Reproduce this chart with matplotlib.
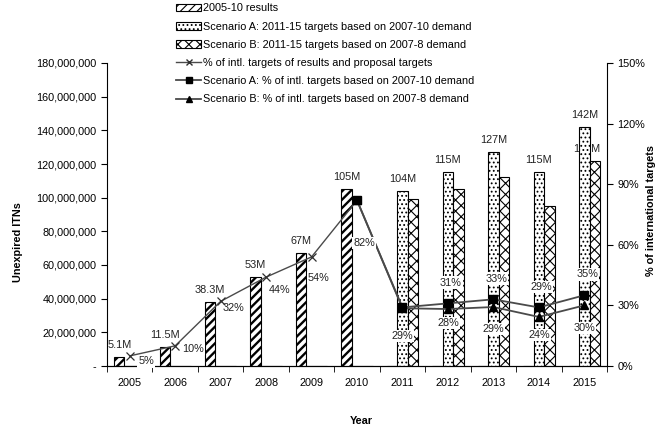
import numpy as np
import matplotlib
matplotlib.use("Agg")
import matplotlib.pyplot as plt
from matplotlib.patches import Patch
from matplotlib.lines import Line2D
from matplotlib.ticker import FuncFormatter, FixedLocator

plt.rcParams['font.family'] = ['Liberation Sans', 'DejaVu Sans']

# data
years = ['2005', '2006', '2007', '2008', '2009', '2010',
         '2011', '2012', '2013', '2014', '2015']
results = [5.1e6, 11.5e6, 38.3e6, 53e6, 67e6, 105e6, 0, 0, 0, 0, 0]
results_labels = ['5.1M', '11.5M', '38.3M', '53M', '67M', '105M', '', '', '', '', '']
scen_a = [0, 0, 0, 0, 0, 0, 104e6, 115e6, 127e6, 115e6, 142e6]
scen_a_labels = ['', '', '', '', '', '', '104M', '115M', '127M', '115M', '142M']
scen_b = [0, 0, 0, 0, 0, 0, 99e6, 105e6, 112.5e6, 95e6, 122e6]
scen_b_labels = ['', '', '', '', '', '', '', '', '', '', '122M']

pct_results = [0.05, 0.10, 0.32, 0.44, 0.54, 0.82]
pct_results_labels = ['5%', '10%', '32%', '44%', '54%', '']
pct_a = [0.82, 0.29, 0.31, 0.33, 0.29, 0.35]
pct_a_labels = ['', '', '31%', '33%', '29%', '35%']
pct_b = [0.82, 0.286, 0.282, 0.292, 0.243, 0.30]
pct_b_labels = ['82%', '29%', '28%', '29%', '24%', '30%']

FS = 7.8
x = np.arange(len(years))
w = 0.23

fig = plt.figure(figsize=(6.61, 4.29), dpi=100)
ax = fig.add_axes([107 / 661, 1 - 366 / 429, 500 / 661, 303 / 429])
ax2 = ax.twinx()

plt.rcParams['hatch.linewidth'] = 1.7
ax.bar(x - w, results, w, color='white', edgecolor='black', hatch='////', lw=0.8, zorder=3)
leg_res = Patch(facecolor='white', edgecolor='black', hatch='////', lw=0.8)
plt.rcParams['hatch.linewidth'] = 0.8
ax.bar(x, scen_a, w, color='white', edgecolor='black', hatch='....', lw=0.8, zorder=3)
ax.bar(x + w, scen_b, w, color='white', edgecolor='black', hatch='xxx', lw=0.8, zorder=3)

for i, lab in enumerate(results_labels):
    if lab:
        ax.annotate(lab, (x[i] - w, results[i]), xytext=(0, 5), textcoords='offset points',
                    ha='center', va='bottom', fontsize=FS, color='#222222')
for i, lab in enumerate(scen_a_labels):
    if lab:
        ax.annotate(lab, (x[i], scen_a[i]), xytext=(0, 5), textcoords='offset points',
                    ha='center', va='bottom', fontsize=FS, color='#222222')
for i, lab in enumerate(scen_b_labels):
    if lab:
        ax.annotate(lab, (x[i] + 0.05, scen_b[i]), xytext=(0, 5), textcoords='offset points',
                    ha='center', va='bottom', fontsize=FS, color='#222222', zorder=1)

ax.set_xlim(-0.5, len(years) - 0.5)
ax.set_ylim(0, 180e6)
ax.set_yticks(np.arange(0, 180e6 + 1, 20e6))
ax.yaxis.set_major_formatter(FuncFormatter(lambda v, p: '-' if v == 0 else f'{v:,.0f}'))
ax.set_xticks(x)
ax.set_xticklabels(years)
ax.xaxis.set_minor_locator(FixedLocator(np.arange(-0.5, len(years), 1.0)))
ax.tick_params(axis='x', which='major', length=0, pad=9, labelsize=FS)
ax.tick_params(axis='x', which='minor', length=4, direction='out')
ax.tick_params(axis='y', length=4, labelsize=FS)
for s in ['top', 'right']:
    ax.spines[s].set_visible(False)

# percent lines on the right axis
ax2.set_ylim(0, 1.5)
ax2.set_yticks(np.arange(0, 1.51, 0.3))
ax2.yaxis.set_major_formatter(FuncFormatter(lambda v, p: f'{v * 100:.0f}%'))
ax2.tick_params(axis='y', length=4, labelsize=FS)
ax2.spines['top'].set_visible(False)
ax2.spines['left'].set_visible(False)
ax2.set_zorder(ax.get_zorder() + 1)
ax2.patch.set_visible(False)

xr = x[:6]
xs = x[5:]
ax2.plot(xr, pct_results, color='#4a4a4a', lw=1.0, marker='x', ms=6, mec='#303030', mew=0.9, zorder=4)
ax2.plot(xs, pct_b, color='#4a4a4a', lw=1.3, marker='^', ms=5.5, mfc='black', mec='black', zorder=4)
ax2.plot(xs, pct_a, color='#4a4a4a', lw=1.3, marker='s', ms=5.5, mfc='black', mec='black', zorder=5)

box = dict(boxstyle='square,pad=0.1', fc='white', ec='none')
res_off = [(12, -4), (13, -2), (9, -5), (10, -9), (5, -15), (0, 0)]
for i, lab in enumerate(pct_results_labels):
    if lab:
        ax2.annotate(lab, (xr[i], pct_results[i]), xytext=res_off[i], textcoords='offset points',
                     ha='center', va='center', fontsize=FS, color='#222222', bbox=box)
for i, lab in enumerate(pct_a_labels):
    if lab:
        ax2.annotate(lab, (xs[i], pct_a[i]), xytext=(2, 15), textcoords='offset points',
                     ha='center', va='center', fontsize=FS, color='#222222', bbox=box, zorder=6)
b_off = [(5, -31), (0, -20), (0, -10), (0, -16), (0, -13), (0, -16)]
for i, lab in enumerate(pct_b_labels):
    if lab:
        ax2.annotate(lab, (xs[i], pct_b[i]), xytext=b_off[i], textcoords='offset points',
                     ha='center', va='center', fontsize=FS, color='#222222', bbox=box, zorder=6)

fig.text(18 / 661, 1 - 242 / 429, 'Unexpired ITNs', rotation=90, ha='center', va='center',
         fontsize=FS, fontweight='bold')
fig.text(651 / 661, 1 - 211 / 429, '% of international targets', rotation=90, ha='center',
         va='center', fontsize=FS, fontweight='bold')
fig.text(361 / 661, 1 - 421 / 429, 'Year', ha='center', va='center', fontsize=FS, fontweight='bold')

handles = [
    leg_res,
    Patch(facecolor='white', edgecolor='black', hatch='....', lw=0.8),
    Patch(facecolor='white', edgecolor='black', hatch='xxx', lw=0.8),
    Line2D([], [], color='#4a4a4a', lw=1.0, marker='x', ms=5, mec='#303030'),
    Line2D([], [], color='#4a4a4a', lw=1.3, marker='s', ms=5, mfc='black', mec='black'),
    Line2D([], [], color='#4a4a4a', lw=1.3, marker='^', ms=5, mfc='black', mec='black'),
]
names = ['2005-10 results',
         'Scenario A: 2011-15 targets based on 2007-10 demand',
         'Scenario B: 2011-15 targets based on 2007-8 demand',
         '% of intl. targets of results and proposal targets',
         'Scenario A: % of intl. targets based on 2007-10 demand',
         'Scenario B: % of intl. targets based on 2007-8 demand']
fig.legend(handles, names, loc='upper left', bbox_to_anchor=(172 / 661, 1 + 1 / 429),
           frameon=False, fontsize=FS, handlelength=2.3, handleheight=0.7,
           handletextpad=0.2, labelspacing=0.76, borderaxespad=0)

fig.savefig('out.png', dpi=100)
